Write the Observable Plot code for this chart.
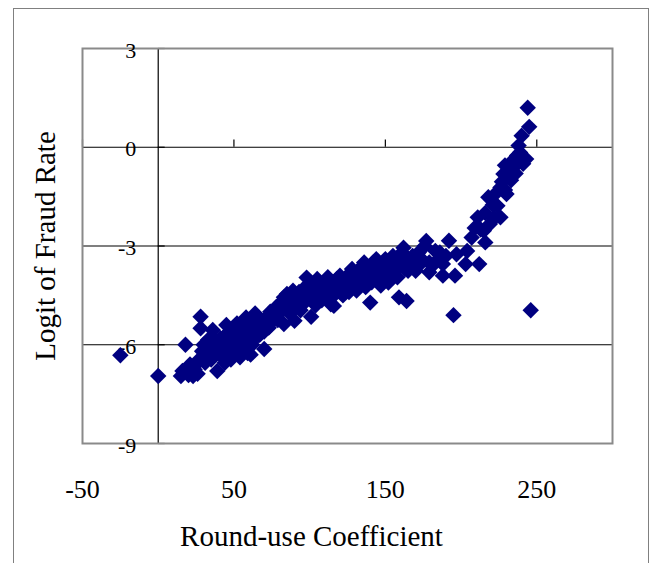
<!DOCTYPE html>
<html>
<head>
<meta charset="utf-8">
<script src="https://cdn.jsdelivr.net/npm/d3@7"></script>
<script src="https://cdn.jsdelivr.net/npm/@observablehq/plot@0.6"></script>
<style>
  html, body { margin: 0; padding: 0; background: #fff; }
  #wrap { position: relative; width: 654px; height: 563px; overflow: hidden; }
  #border { position: absolute; left: 13px; top: 8px; width: 636px; height: 600px; border: 1px solid #808080; box-sizing: border-box; }
  #chart { position: absolute; left: 0; top: 0; }
</style>
</head>
<body>
<div id="wrap"><div id="border"></div><div id="chart"></div></div>
<script>
const roundUse = [
  -25, 0, 15, 16, 18, 19, 20, 21, 22, 23,
  24, 25, 26, 27, 28, 28, 29, 30, 31, 32,
  33, 34, 35, 36, 37, 38, 39, 40, 41, 42,
  43, 44, 45, 46, 47, 48, 49, 50, 50, 51,
  52, 53, 54, 55, 56, 57, 58, 58, 60, 60,
  61, 62, 63, 64, 65, 66, 67, 68, 70, 70,
  71, 72, 73, 74, 75, 76, 77, 78, 79, 80,
  81, 82, 83, 83, 84, 85, 86, 87, 88, 89,
  90, 90, 91, 92, 93, 94, 95, 96, 97, 98,
  99, 100, 101, 102, 103, 104, 105, 106, 107, 108,
  109, 110, 111, 112, 113, 114, 115, 116, 117, 118,
  119, 120, 121, 122, 123, 124, 125, 126, 127, 128,
  129, 130, 131, 132, 133, 134, 135, 136, 137, 138,
  139, 140, 140, 141, 142, 143, 144, 145, 146, 147,
  148, 149, 150, 151, 152, 153, 154, 155, 156, 157,
  158, 159, 160, 161, 162, 163, 164, 165, 166, 168,
  170, 172, 174, 176, 177, 179, 179, 181, 183, 186,
  188, 188, 190, 192, 195, 196, 197, 203, 204, 207,
  211, 212, 213, 215, 216, 216, 218, 219, 221, 222,
  224, 226, 226, 227, 228, 229, 230, 231, 232, 233,
  234, 235, 236, 237, 238, 239, 240, 241, 243, 244,
  245, 246,
  44, 48, 55, 59, 62, 45, 52, 64, 105, 112,
  120, 128, 135, 142, 150, 147, 155, 165, 170, 173,
  185, 209, 223, 229
];
const logitFraud = [
  -6.32, -6.95, -6.95, -6.8, -6.0, -6.72, -6.92, -6.6, -6.85, -6.95,
  -6.75, -6.6, -6.88, -6.45, -5.15, -5.5, -6.2, -6.0, -6.55, -6.35,
  -5.85, -6.05, -6.45, -5.55, -6.2, -5.9, -6.8, -6.1, -5.8, -6.35,
  -5.78, -6.0, -6.25, -5.65, -6.1, -5.9, -5.58, -5.6, -6.2, -5.95,
  -6.1, -5.7, -6.38, -5.85, -5.5, -6.05, -5.17, -5.75, -5.9, -5.45,
  -6.3, -5.6, -5.3, -5.8, -5.12, -5.5, -5.7, -5.3, -6.13, -5.6,
  -5.2, -5.45, -5.48, -5.0, -5.3, -4.97, -5.15, -4.85, -5.25, -4.77,
  -5.0, -4.7, -4.56, -5.37, -4.9, -4.46, -4.75, -5.05, -4.6, -4.36,
  -5.27, -4.8, -4.5, -4.65, -4.4, -4.95, -4.55, -4.3, -4.7, -3.96,
  -4.45, -4.2, -5.15, -4.6, -4.35, -4.8, -4.25, -4.5, -4.15, -4.65,
  -4.16, -4.4, -4.25, -4.55, -4.1, -4.77, -4.3, -4.82, -4.45, -4.0,
  -4.2, -4.35, -4.1, -4.5, -4.25, -3.95, -4.15, -4.4, -4.05, -4.2,
  -3.9, -4.1, -4.35, -3.95, -4.15, -3.8, -4.0, -3.5, -4.25, -3.75,
  -3.95, -4.72, -3.65, -4.1, -3.85, -3.6, -3.4, -3.95, -3.7, -3.55,
  -3.8, -4.05, -3.65, -3.5, -4.11, -3.85, -3.6, -3.3, -3.75, -3.45,
  -3.95, -4.56, -3.55, -3.2, -3.05, -3.7, -4.67, -3.4, -3.6, -3.3,
  -3.5, -3.2, -3.4, -3.0, -2.85, -3.5, -3.8, -3.6, -3.15, -3.2,
  -3.55, -3.9, -3.3, -2.84, -5.1, -3.9, -3.25, -3.55, -3.15, -2.74,
  -2.13, -3.55, -2.5, -2.54, -2.89, -2.0, -1.52, -2.33, -1.75, -2.15,
  -1.78, -1.22, -2.13, -1.05, -0.81, -1.3, -1.42, -0.9, -0.71, -1.0,
  -0.41, -0.6, -0.8, -0.25, 0.05, -0.16, 0.35, -0.5, -0.36, 1.2,
  0.62, -4.95,
  -6.55, -6.45, -6.3, -6.25, -6.0, -5.4, -5.35, -5.05, -4.0, -3.95,
  -3.9, -3.7, -3.6, -3.5, -3.4, -4.2, -3.95, -3.75, -3.75, -3.55,
  -3.4, -2.45, -1.4, -0.55
];
const xTicks = [-50, 50, 150, 250];
const yTicks = [3, 0, -3, -6, -9];
const gridLines = [0, -3, -6];
const xTitle = "Round-use Coefficient";
const yTitle = "Logit of Fraud Rate";

const points = roundUse.map((x, i) => ({x, y: logitFraud[i]}));
const diamond = d3.symbolDiamond2 || {
  draw(ctx, size) { const r = Math.sqrt(size) * 0.62625; ctx.moveTo(0, -r); ctx.lineTo(r, 0); ctx.lineTo(0, r); ctx.lineTo(-r, 0); ctx.closePath(); }
};
const serif = "'Liberation Serif', 'Times New Roman', serif";

const chart = Plot.plot({
  width: 654,
  height: 563,
  marginLeft: 82,
  marginRight: 42,
  marginTop: 48,
  marginBottom: 120,
  style: {background: "transparent", fontFamily: serif, overflow: "visible"},
  x: {domain: [-50, 300], axis: null},
  y: {domain: [-9, 3], axis: null},
  marks: [
    Plot.ruleY(gridLines, {stroke: "#000", strokeWidth: 1.2}),
    Plot.ruleX([0], {stroke: "#000", strokeWidth: 1.2}),
    Plot.ruleX(xTicks, {x: d => d, y1: 0, y2: 0.22, stroke: "#000", strokeWidth: 1.2}),
    Plot.ruleY(yTicks, {y: d => d, x1: 0, x2: 4.6, stroke: "#000", strokeWidth: 1.2}),
    Plot.frame({stroke: "#8a8a8a", strokeWidth: 2}),
    Plot.text(yTicks, {x: 0, y: d => d, text: d => String(d), textAnchor: "end", lineAnchor: "middle", dx: -22, dy: 2, fontSize: 22, fill: "#000"}),
    Plot.text(xTicks, {x: d => d, frameAnchor: "bottom", text: d => String(d), lineAnchor: "middle", dy: 46, fontSize: 26, fill: "#000"}),
    Plot.text([xTitle], {frameAnchor: "bottom", text: d => d, textAnchor: "middle", lineAnchor: "middle", dy: 93, dx: -36, fontSize: 29, fill: "#000"}),
    Plot.text([yTitle], {frameAnchor: "left", text: d => d, rotate: -90, textAnchor: "middle", lineAnchor: "middle", dx: -37, fontSize: 29, fill: "#000"}),
    Plot.dot(points, {x: "x", y: "y", symbol: diamond, r: 7.4, fill: "#000080", stroke: "none"})
  ]
});
document.getElementById("chart").appendChild(chart);
</script>
</body>
</html>
